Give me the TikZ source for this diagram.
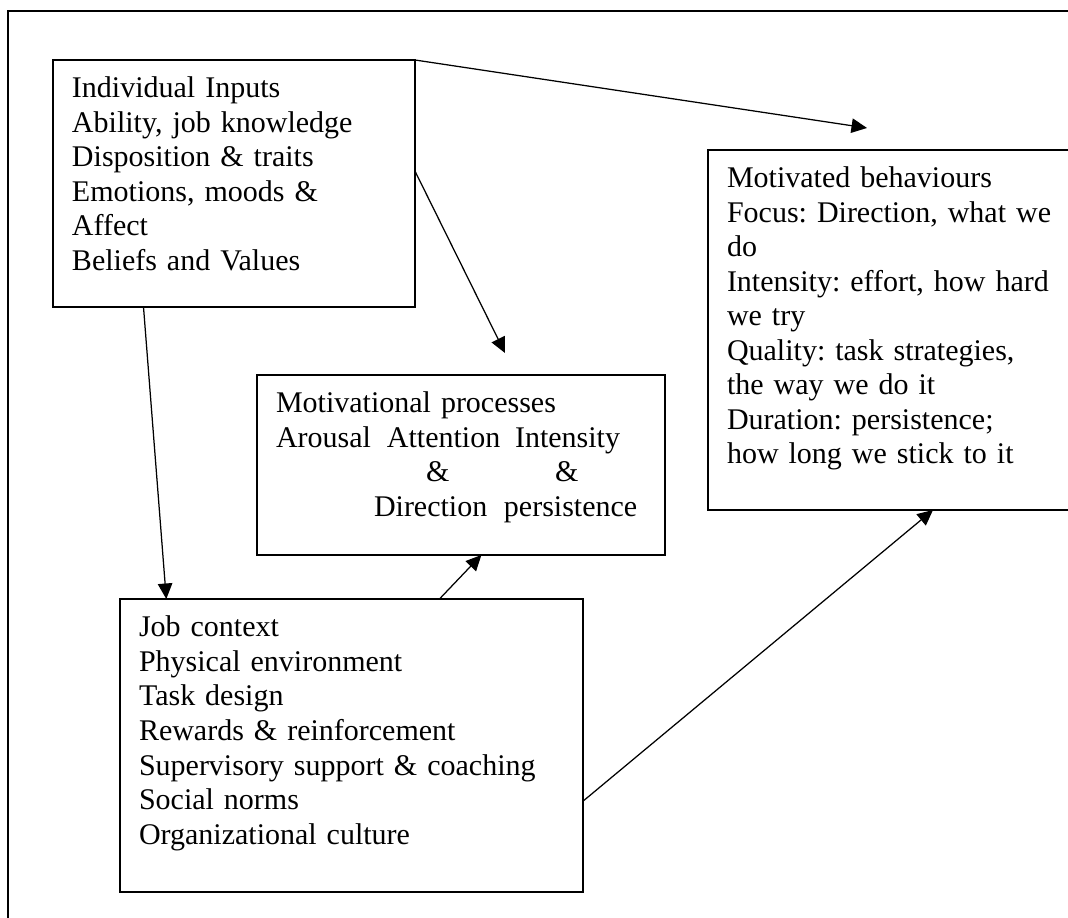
\documentclass[tikz,border=0pt]{standalone}
\usepackage{fontspec}
\setmainfont{Liberation Serif}
\usepackage{tikz}
\usetikzlibrary{calc}
\usetikzlibrary{arrows.meta}
\frenchspacing

\tikzset{
    box/.style={draw, line width=0.6pt, anchor=north west, outer sep=0pt,
        inner xsep=7.6pt, inner ysep=0pt, align=left, text height=15.2pt,
        font=\fontsize{12pt}{13.8pt}\selectfont},
    link/.style={->, line width=0.5pt},
}

\begin{document}
\begin{tikzpicture}[x=0.4pt, y=-0.4pt, >={Triangle[length=6.2pt, width=5.8pt]}]
    \useasboundingbox (0,0) rectangle (1068,918);
    \clip (0,0) rectangle (1068,918);

    % page frame, cut at right and bottom
    \draw [line width=0.8pt] (8,940) |- (1090,11);

    \node [box, text width=129.6pt, text depth=83.6pt] (inputs) at (53,60) {Individual Inputs\\
        Ability, job knowledge\\
        Disposition \& traits\\
        Emotions, moods \&\\
        Affect\\
        Beliefs and Values};

    \node [box, text width=148pt, text depth=56.8pt] (processes) at (257,375) {Motivational processes\\
        \makebox[44.4pt][l]{Arousal}\makebox[51.2pt][l]{Attention}Intensity\\
        \hspace*{60pt}\makebox[51.6pt][l]{\&}\&\\
        \hspace*{39.2pt}\makebox[52pt][l]{Direction}persistence};

    % right side runs off the page
    \node [box, text width=170pt, text depth=128.8pt] (behaviours) at (708,150) {Motivated behaviours\\
        Focus: Direction, what we\\
        do\\
        Intensity: effort, how hard\\
        we try\\
        Quality: task strategies,\\
        the way we do it\\
        Duration: persistence;\\
        how long we stick to it};

    \node [box, text width=170pt, text depth=102pt] (context) at (120,599) {Job context\\
        Physical environment\\
        Task design\\
        Rewards \& reinforcement\\
        Supervisory support \& coaching\\
        Social norms\\
        Organizational culture};

    \coordinate (tipC) at (867,128);
    \coordinate (tipB) at (505,353);

    \draw [link] (inputs.north east) -- (tipC);
    \draw [link] ($(inputs.north east)!0.45!(inputs.south east)$) -- (tipB);
    \draw [link] ($(inputs.south west)!0.25!(inputs.south east)$) -- ($(context.north west)!0.1!(context.north east)$);
    \draw [link] ($(context.north west)!0.69!(context.north east)$) -- ($(processes.south west)!0.55!(processes.south east)$);
    \draw [link] ($(context.north east)!0.69!(context.south east)$) -- ([xshift=90pt]behaviours.south west);
\end{tikzpicture}
\end{document}
